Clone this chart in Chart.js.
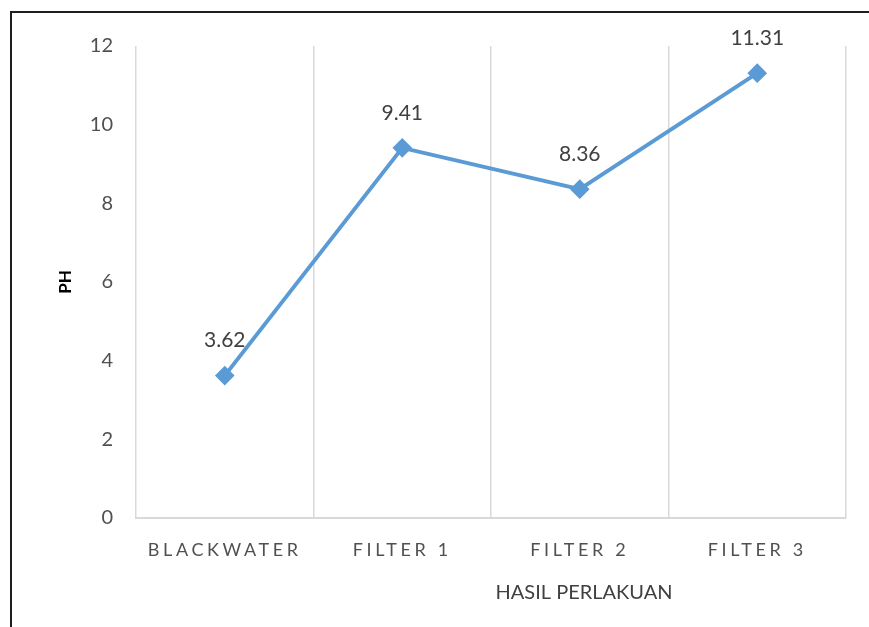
<!DOCTYPE html>
<html>
<head>
<meta charset="utf-8">
<script src="https://cdn.jsdelivr.net/npm/chart.js@4.4.1/dist/chart.umd.min.js"></script>
<style>
  html, body { margin: 0; padding: 0; background: #fff; width: 869px; height: 627px; overflow: hidden; }
  #frame { position: absolute; left: 10px; top: 11px; width: 900px; height: 700px; border: 2px solid #1f1f1f; box-sizing: border-box; }
  #wrap { position: absolute; left: 0; top: 0; width: 869px; height: 627px; }
</style>
</head>
<body>
<div id="frame"></div>
<div id="wrap"><canvas id="c" width="869" height="627"></canvas></div>
<script>
const categories = ["BLACKWATER", "FILTER 1", "FILTER 2", "FILTER 3"];
const phValues = [3.62, 9.41, 8.36, 11.31];
const yTicks = [0, 2, 4, 6, 8, 10, 12];
const xTitle = "HASIL PERLAKUAN";
const yTitle = "PH";

const FONT = "Lato, 'Liberation Sans', sans-serif";

const letterSpacingPlugin = {
  id: 'xLetterSpacing',
  beforeDraw(chart) {
    const sx = chart.scales.x;
    if (sx && !sx._lsPatched) {
      const orig = sx.drawLabels;
      sx.drawLabels = function (area) {
        const ctx = this.ctx;
        ctx.save();
        ctx.letterSpacing = '3.6px';
        orig.call(this, area);
        ctx.restore();
      };
      sx._lsPatched = true;
    }
  }
};

const labelsPlugin = {
  id: 'valueLabels',
  afterDatasetsDraw(chart) {
    const ctx = chart.ctx;
    const meta = chart.getDatasetMeta(0);
    ctx.save();
    ctx.font = "21px " + FONT;
    ctx.fillStyle = "#404040";
    ctx.textAlign = "center";
    ctx.textBaseline = "middle";
    meta.data.forEach((pt, i) => {
      ctx.fillText(phValues[i].toFixed(2), pt.x, pt.y - 35);
    });
    ctx.restore();
  },
  afterDraw(chart) {
    const ctx = chart.ctx;
    const sx = chart.scales.x;
    ctx.save();
    ctx.font = "20px " + FONT;
    ctx.fillStyle = "#404040";
    ctx.textAlign = "center";
    ctx.textBaseline = "middle";
    ctx.fillText(xTitle, sx.left + (sx.right - sx.left) * 0.631, 593);
    ctx.restore();
  }
};

new Chart(document.getElementById('c'), {
  type: 'line',
  data: {
    labels: categories,
    datasets: [{
      data: phValues,
      borderColor: '#5b9bd5',
      backgroundColor: '#5b9bd5',
      borderWidth: 4,
      pointStyle: 'rectRot',
      pointRadius: 7,
      pointHoverRadius: 7,
      tension: 0,
      fill: false
    }]
  },
  options: {
    responsive: false,
    animation: false,
    devicePixelRatio: 1,
    layout: { padding: { left: 0, top: 46, right: 23, bottom: 0 } },
    plugins: { legend: { display: false }, tooltip: { enabled: false } },
    scales: {
      x: {
        type: 'category',
        offset: true,
        grid: { display: true, offset: true, color: '#d9d9d9', lineWidth: 1.5, drawTicks: false },
        border: { display: true, color: '#d9d9d9', width: 2 },
        ticks: { color: '#505050', font: { family: FONT, size: 18 }, padding: 21, maxRotation: 0 },
        afterFit(scale) { scale.height = 109; }
      },
      y: {
        min: 0, max: 12,
        afterBuildTicks(scale) { scale.ticks = yTicks.map(v => ({ value: v })); },
        grid: { display: false, drawTicks: false },
        border: { display: false },
        ticks: { color: '#505050', font: { family: FONT, size: 20 }, padding: 23 },
        title: { display: true, text: yTitle, color: '#000', font: { family: FONT, size: 17, weight: 'bold' }, padding: { top: 55, bottom: 0 } },
        afterFit(scale) { scale.width = 136; }
      }
    }
  },
  plugins: [letterSpacingPlugin, labelsPlugin]
});
</script>
</body>
</html>
